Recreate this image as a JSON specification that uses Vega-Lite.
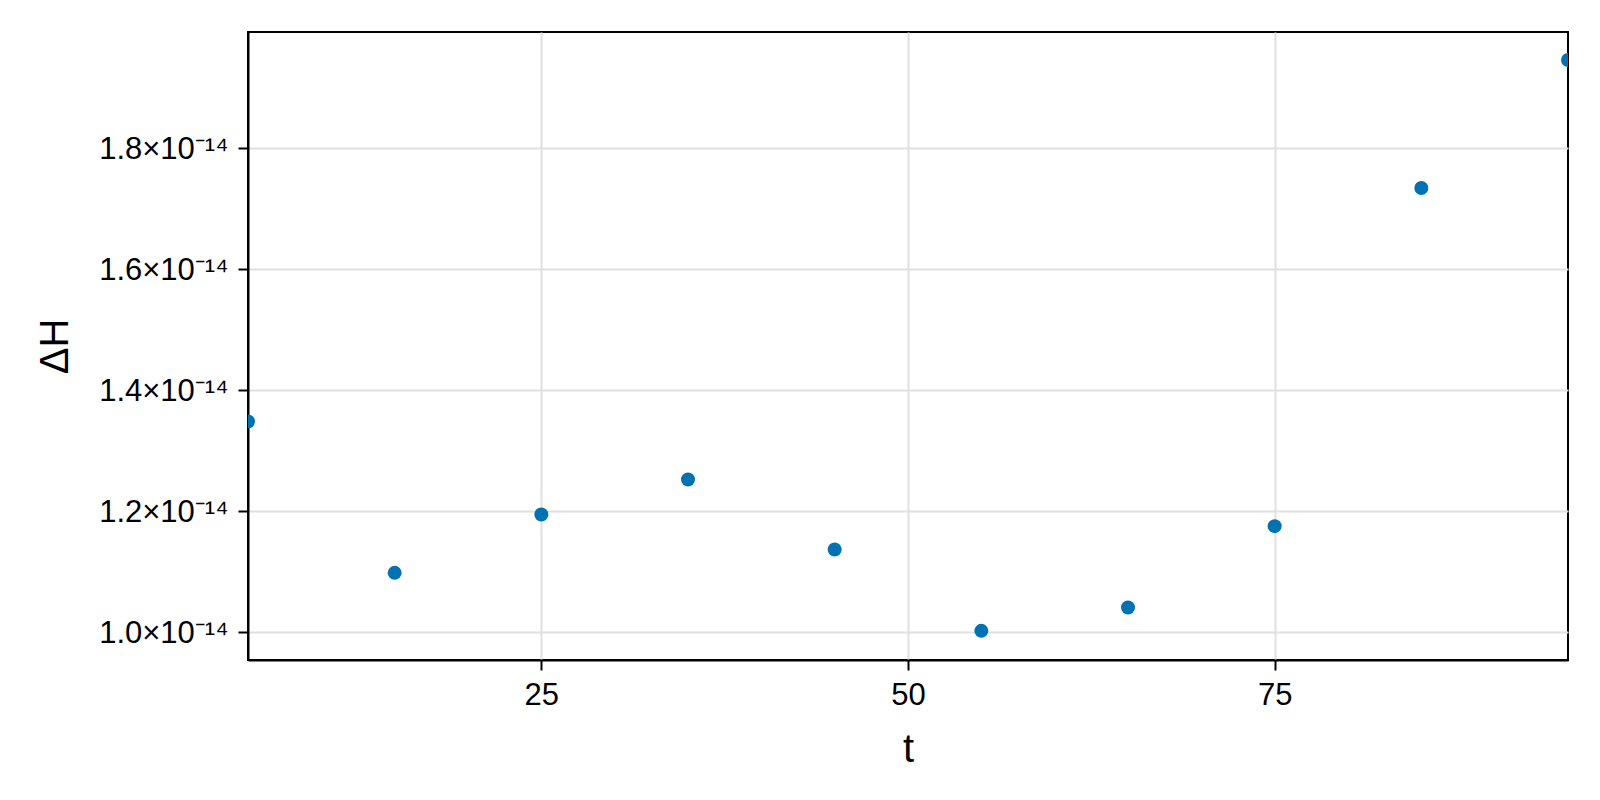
{
  "$schema": "https://vega.github.io/schema/vega-lite/v6.json",
  "autosize": {"type": "none"},
  "width": 1320,
  "height": 628,
  "padding": {"left": 248, "top": 32, "right": 32, "bottom": 140},
  "background": "white",
  "config": {
    "font": "Liberation Sans",
    "view": {"stroke": "black", "strokeWidth": 2},
    "axis": {
      "domainColor": "black",
      "domainWidth": 2,
      "tickColor": "black",
      "tickWidth": 2,
      "tickSize": 10,
      "gridColor": "#e0e0e0",
      "gridWidth": 2,
      "labelColor": "black",
      "labelFontSize": 31,
      "labelFont": "Liberation Sans",
      "titleFont": "Liberation Sans",
      "titleColor": "black",
      "titleFontSize": 40,
      "titleFontWeight": "normal"
    }
  },
  "data": {
    "values": [
      {"t": 5, "dH": 1.3477e-14},
      {"t": 15, "dH": 1.0975e-14},
      {"t": 25, "dH": 1.1939e-14},
      {"t": 35, "dH": 1.2517e-14},
      {"t": 45, "dH": 1.1360e-14},
      {"t": 55, "dH": 1.0017e-14},
      {"t": 65, "dH": 1.0402e-14},
      {"t": 75, "dH": 1.1747e-14},
      {"t": 85, "dH": 1.7334e-14},
      {"t": 95, "dH": 1.9450e-14}
    ]
  },
  "mark": {"type": "point", "filled": true, "clip": true, "opacity": 1},
  "encoding": {
    "x": {
      "field": "t",
      "type": "quantitative",
      "title": "t",
      "scale": {"domain": [5, 95], "nice": false, "zero": false},
      "axis": {
        "values": [25, 50, 75],
        "labelPadding": 10,
        "titleY": 101,
        "titleBaseline": "alphabetic"
      }
    },
    "y": {
      "field": "dH",
      "type": "quantitative",
      "title": "ΔH",
      "scale": {"domain": [0.9535e-14, 1.9913e-14], "nice": false, "zero": false},
      "axis": {
        "values": [1.0e-14, 1.2e-14, 1.4e-14, 1.6e-14, 1.8e-14],
        "labelExpr": "format(datum.value * 1e14, '.1f') + '×10⁻¹⁴'",
        "labelPadding": 10,
        "labelOffset": 2,
        "titleX": -193,
        "titleBaseline": "middle"
      }
    },
    "color": {"value": "#0072B2"},
    "size": {"value": 196}
  }
}
